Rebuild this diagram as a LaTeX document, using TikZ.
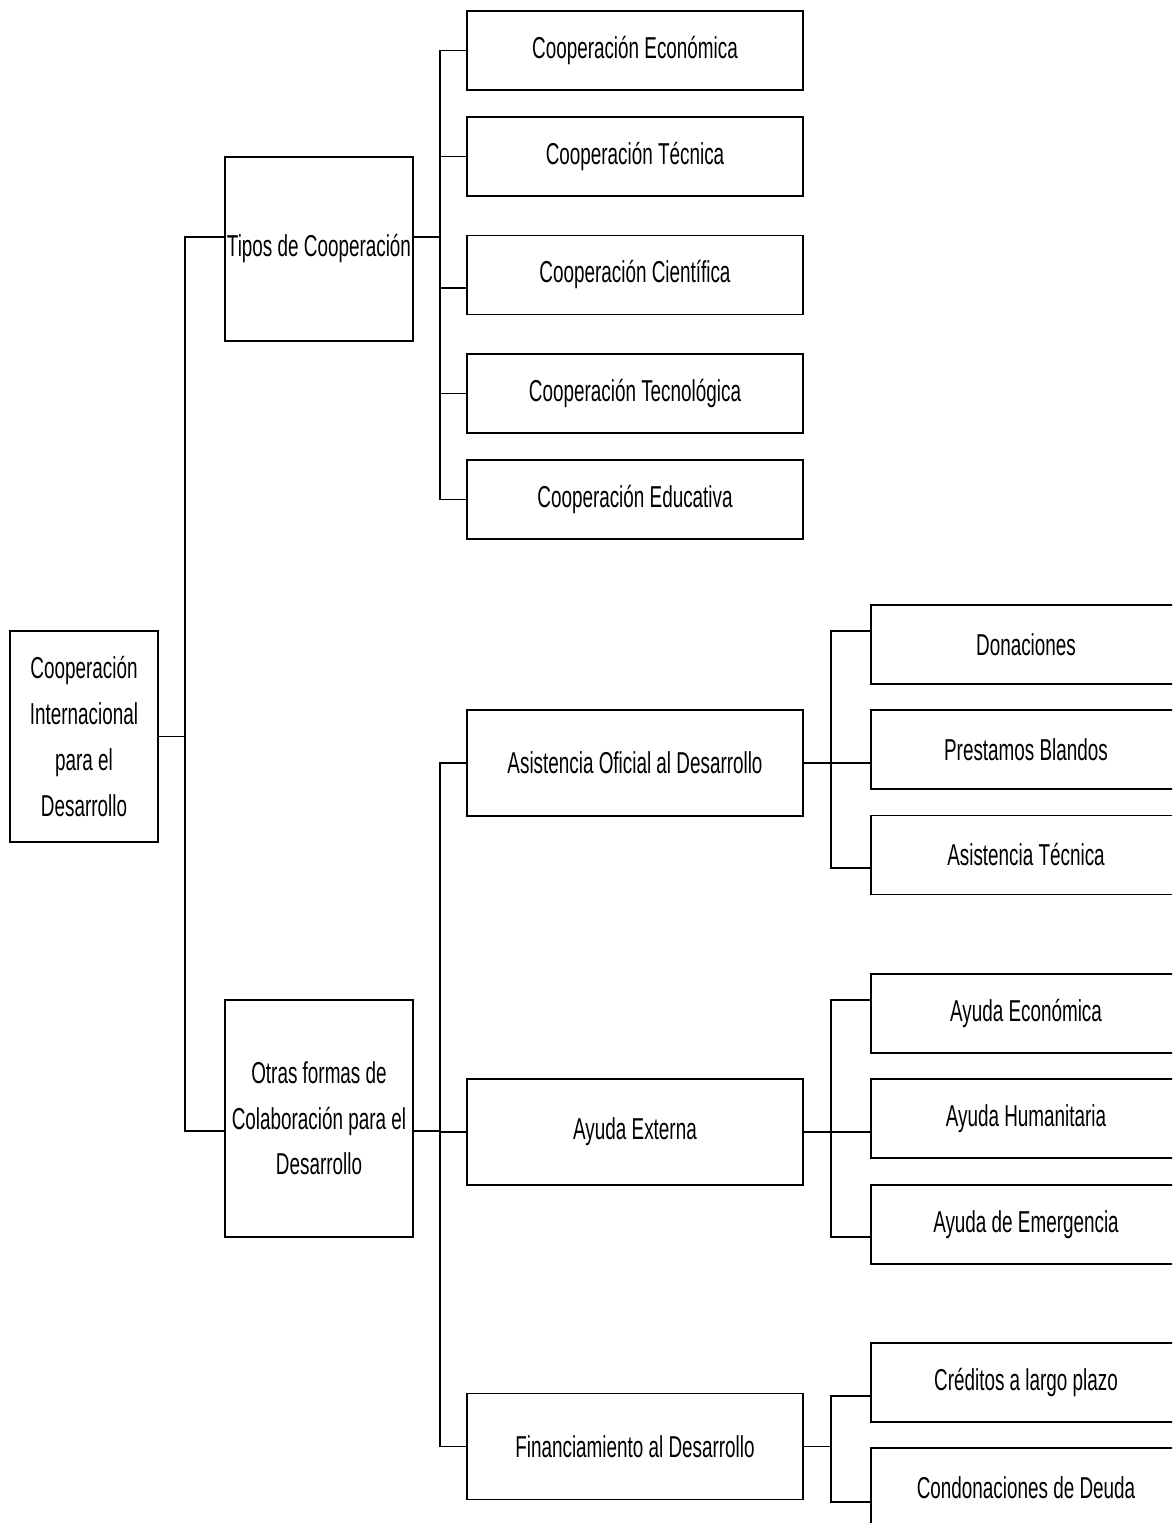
\documentclass[tikz,border=0pt]{standalone}
\usepackage{fontspec}
\setmainfont{Liberation Sans}[FakeStretch=0.625]
\usetikzlibrary{calc}

\tikzset{
  caja/.style={draw, line width=0.9pt, inner sep=0pt, align=center,
    font=\fontsize{17.2}{26}\selectfont},
  cajaA/.style={caja, minimum width=6.72cm, minimum height=1.58cm},
  cajaB/.style={caja, minimum width=6.2cm, minimum height=1.58cm},
  linea/.style={line width=0.9pt}
}

\begin{document}
\begin{tikzpicture}[x=0.02cm,y=-0.02cm]
        \clip (0,0) rectangle (1172,1523);

        % Root box
        \node[caja, minimum width=2.96cm, minimum height=4.22cm] (root) at (84,736.5)
          {Cooperación\\Internacional\\para el\\Desarrollo};

        % First level
        \node[caja, minimum width=3.76cm, minimum height=3.68cm] (tipos) at (319,249)
          {Tipos de Cooperación};
        \node[caja, minimum width=3.76cm, minimum height=4.74cm] (otras) at (319,1118.5)
          {Otras formas de\\Colaboración para el\\Desarrollo};

        % Second level, tipos
        \node[cajaA] (eco) at (635,50.5) {Cooperación Económica};
        \node[cajaA] (tec) at (635,156.5) {Cooperación Técnica};
        \node[cajaA] (cie) at (635,275) {Cooperación Científica};
        \node[cajaA] (tgc) at (635,393.5) {Cooperación Tecnológica};
        \node[cajaA] (edu) at (635,499.5) {Cooperación Educativa};

        % Second level, otras formas
        \node[cajaA, minimum height=2.12cm] (aod) at (635,763) {Asistencia Oficial al Desarrollo};
        \node[cajaA, minimum height=2.12cm] (ext) at (635,1132) {Ayuda Externa};
        \node[cajaA, minimum height=2.12cm] (fin) at (635,1446.5) {Financiamiento al Desarrollo};

        % Third level
        \node[cajaB] (don) at (1026,644.5) {Donaciones};
        \node[cajaB] (pre) at (1026,749.5) {Prestamos Blandos};
        \node[cajaB] (ast) at (1026,855) {Asistencia Técnica};
        \node[cajaB] (aye) at (1026,1013.5) {Ayuda Económica};
        \node[cajaB] (ayh) at (1026,1118.5) {Ayuda Humanitaria};
        \node[cajaB] (aem) at (1026,1224.5) {Ayuda de Emergencia};
        \node[cajaB] (cre) at (1026,1382.5) {Créditos a largo plazo};
        \node[cajaB] (con) at (1026,1487.5) {Condonaciones de Deuda};

        % Bus points
        \coordinate (bus1) at (185,736.5);
        \coordinate (bus2) at (440,237);
        \coordinate (bus3) at (440,1131);
        \coordinate (bus4) at (831,763);
        \coordinate (bus5) at (831,1132);
        \coordinate (bus6) at (831,1446.5);

        % Connectors root
        \draw[linea] (root.east) -- (bus1);
        \draw[linea] ($(tipos.west)+(0,-12)$) -| (bus1) |- ($(otras.west)+(0,12.5)$);

        % Connectors tipos
        \draw[linea] ($(tipos.east)+(0,-12)$) -- (bus2);
        \foreach \hijo/\desp in {eco/0, tec/0, cie/13, tgc/0, edu/0}
          \draw[linea] (bus2) |- ($(\hijo.west)+(0,\desp)$);

        % Connectors otras formas
        \draw[linea] ($(otras.east)+(0,12.5)$) -- (bus3);
        \foreach \hijo in {aod, ext, fin}
          \draw[linea] (bus3) |- (\hijo.west);

        % Connectors third level
        \draw[linea] (aod.east) -- (bus4);
        \foreach \hijo/\desp in {don/-13.5, pre/13.5, ast/13}
          \draw[linea] (bus4) |- ($(\hijo.west)+(0,\desp)$);
        \draw[linea] (ext.east) -- (bus5);
        \foreach \hijo/\desp in {aye/-13.5, ayh/13.5, aem/12.5}
          \draw[linea] (bus5) |- ($(\hijo.west)+(0,\desp)$);
        \draw[linea] (fin.east) -- (bus6);
        \foreach \hijo/\desp in {cre/13.5, con/14.5}
          \draw[linea] (bus6) |- ($(\hijo.west)+(0,\desp)$);
    \end{tikzpicture}
\end{document}
